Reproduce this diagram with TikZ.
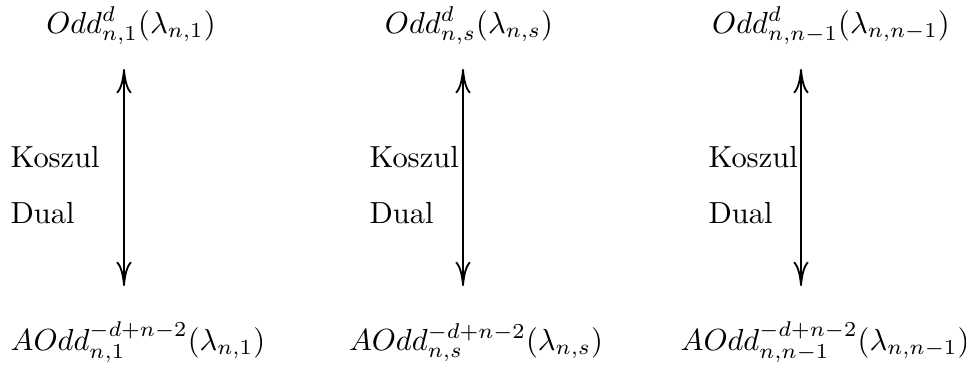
\documentclass[tikz,border=0pt]{standalone}
\usetikzlibrary{arrows.meta}
\begin{document}
\begin{tikzpicture}[x=0.3279pt,y=-0.3279pt,
  lbl/.style={inner sep=0pt,anchor=base},
  side/.style={inner sep=0pt,anchor=base west},
  dualarrow/.style={{Computer Modern Rightarrow[length=8pt,width=5pt]}-{Computer Modern Rightarrow[length=8pt,width=5pt]},line width=0.6pt}]
\useasboundingbox (0,0) rectangle (966,364);
% top labels
\node[lbl] (t1) at (131,33) {$Odd^d_{n,1}(\lambda_{n,1})$};
\node[lbl] (t2) at (469,33) {$Odd^d_{n,s}(\lambda_{n,s})$};
\node[lbl] (t3) at (831,33) {$Odd^d_{n,n-1}(\lambda_{n,n-1})$};
% bottom labels
\node[lbl] (b1) at (138,350) {$AOdd^{-d+n-2}_{n,1}(\lambda_{n,1})$};
\node[lbl] (b2) at (476,350) {$AOdd^{-d+n-2}_{n,s}(\lambda_{n,s})$};
\node[lbl] (b3) at (825,350) {$AOdd^{-d+n-2}_{n,n-1}(\lambda_{n,n-1})$};
% arrow ends
\coordinate (u1) at (124,69);  \coordinate (d1) at (124,286);
\coordinate (u2) at (463,69);  \coordinate (d2) at (463,286);
\coordinate (u3) at (801,69);  \coordinate (d3) at (801,286);
\draw[dualarrow] (d1) -- (u1);
\draw[dualarrow] (d2) -- (u2);
\draw[dualarrow] (d3) -- (u3);
% side labels
\node[side] (k1) at (10,167) {Koszul};
\node[side] (l1) at (10,223) {Dual};
\node[side] (k2) at (369,167) {Koszul};
\node[side] (l2) at (369,223) {Dual};
\node[side] (k3) at (708,167) {Koszul};
\node[side] (l3) at (708,223) {Dual};
\end{tikzpicture}
\end{document}
